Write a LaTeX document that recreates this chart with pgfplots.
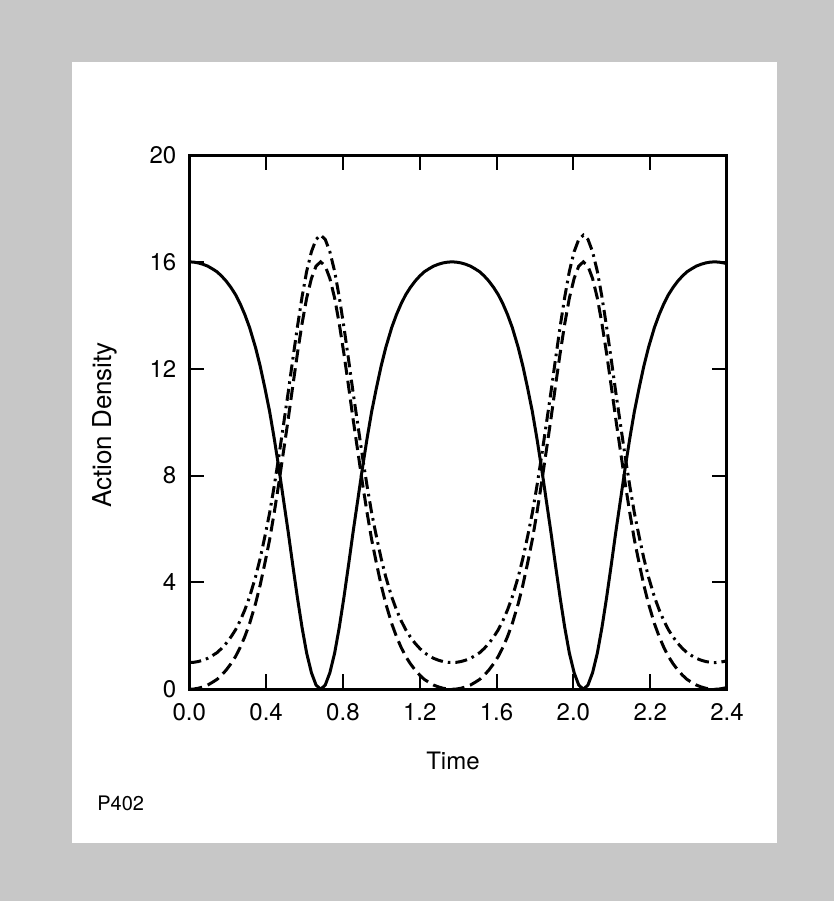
\documentclass[border=0pt]{standalone}
\usepackage{fontspec}
\setmainfont{TeX Gyre Heros}
\usepackage{pgfplots}
\usepackage{pgfplotstable}
\pgfplotsset{compat=1.18}

\pgfplotstableread{
t S D E
0.000 16.00 0.00 1.00
0.023 15.99 0.01 1.01
0.047 15.96 0.04 1.04
0.071 15.91 0.09 1.09
0.096 15.84 0.16 1.16
0.120 15.74 0.26 1.26
0.144 15.63 0.37 1.37
0.168 15.47 0.53 1.53
0.192 15.28 0.72 1.72
0.217 15.04 0.96 1.96
0.241 14.77 1.23 2.23
0.265 14.43 1.57 2.57
0.289 14.03 1.97 2.97
0.314 13.54 2.46 3.46
0.345 12.79 3.21 4.21
0.369 12.10 3.90 4.90
0.393 11.30 4.70 5.70
0.418 10.41 5.59 6.59
0.442 9.40 6.60 7.60
0.466 8.30 7.70 8.70
0.490 7.12 8.88 9.88
0.515 5.89 10.11 11.11
0.539 4.64 11.36 12.36
0.563 3.43 12.57 13.57
0.587 2.32 13.68 14.68
0.611 1.36 14.64 15.64
0.636 0.62 15.38 16.38
0.660 0.16 15.84 16.84
0.684 0.00 16.00 17.00
0.708 0.16 15.84 16.84
0.732 0.62 15.38 16.38
0.757 1.36 14.64 15.64
0.781 2.32 13.68 14.68
0.805 3.43 12.57 13.57
0.829 4.64 11.36 12.36
0.853 5.89 10.11 11.11
0.878 7.12 8.88 9.88
0.902 8.30 7.70 8.70
0.926 9.40 6.60 7.60
0.950 10.41 5.59 6.59
0.975 11.30 4.70 5.70
0.999 12.10 3.90 4.90
1.023 12.79 3.21 4.21
1.054 13.54 2.46 3.46
1.079 14.03 1.97 2.97
1.103 14.43 1.57 2.57
1.127 14.77 1.23 2.23
1.151 15.04 0.96 1.96
1.176 15.28 0.72 1.72
1.200 15.47 0.53 1.53
1.224 15.63 0.37 1.37
1.248 15.74 0.26 1.26
1.272 15.84 0.16 1.16
1.297 15.91 0.09 1.09
1.321 15.96 0.04 1.04
1.345 15.99 0.01 1.01
1.368 16.00 0.00 1.00
1.391 15.99 0.01 1.01
1.415 15.96 0.04 1.04
1.439 15.91 0.09 1.09
1.464 15.84 0.16 1.16
1.488 15.74 0.26 1.26
1.512 15.63 0.37 1.37
1.536 15.47 0.53 1.53
1.560 15.28 0.72 1.72
1.585 15.04 0.96 1.96
1.609 14.77 1.23 2.23
1.633 14.43 1.57 2.57
1.657 14.03 1.97 2.97
1.682 13.54 2.46 3.46
1.713 12.79 3.21 4.21
1.737 12.10 3.90 4.90
1.761 11.30 4.70 5.70
1.786 10.41 5.59 6.59
1.810 9.40 6.60 7.60
1.834 8.30 7.70 8.70
1.858 7.12 8.88 9.88
1.883 5.89 10.11 11.11
1.907 4.64 11.36 12.36
1.931 3.43 12.57 13.57
1.955 2.32 13.68 14.68
1.979 1.36 14.64 15.64
2.004 0.62 15.38 16.38
2.028 0.16 15.84 16.84
2.052 0.00 16.00 17.00
2.076 0.16 15.84 16.84
2.100 0.62 15.38 16.38
2.125 1.36 14.64 15.64
2.149 2.32 13.68 14.68
2.173 3.43 12.57 13.57
2.197 4.64 11.36 12.36
2.221 5.89 10.11 11.11
2.246 7.12 8.88 9.88
2.270 8.30 7.70 8.70
2.294 9.40 6.60 7.60
2.318 10.41 5.59 6.59
2.343 11.30 4.70 5.70
2.367 12.10 3.90 4.90
2.391 12.79 3.21 4.21
2.422 13.54 2.46 3.46
2.447 14.03 1.97 2.97
2.471 14.43 1.57 2.57
2.495 14.77 1.23 2.23
2.519 15.04 0.96 1.96
2.544 15.28 0.72 1.72
2.568 15.47 0.53 1.53
2.592 15.63 0.37 1.37
2.616 15.74 0.26 1.26
2.640 15.84 0.16 1.16
2.665 15.91 0.09 1.09
2.689 15.96 0.04 1.04
2.713 15.99 0.01 1.01
2.736 16.00 0.00 1.00
2.759 15.99 0.01 1.01
2.783 15.96 0.04 1.04
2.800 15.93 0.07 1.07
}\datatable

\begin{document}
\begin{tikzpicture}
\fill[black!22] (-94.65pt,-105.85pt) rectangle (322.35pt,344.65pt);
\fill[white] (-58.65pt,-76.85pt) rectangle (293.85pt,313.65pt);
\begin{axis}[
  at={(0pt,0pt)}, anchor=south west,
  scale only axis, width=268.85pt, height=267.15pt,
  xmin=0, xmax=2.8, ymin=0, ymax=20,
  xtick={0,0.4,0.8,1.2,1.6,2.0,2.4,2.8},
  xticklabels={0.0,0.4,0.8,1.2,1.6,2.0,2.2,2.4},
  ytick={0,4,8,12,16,20},
  /pgf/number format/assume math mode=true,
  tick align=inside, major tick length=7.5pt,
  axis line style={line width=1.5pt, black},
  every tick/.style={line width=1pt, black},
  tick label style={font=\fontsize{12}{14}\selectfont},
  xticklabel style={anchor=center, yshift=-11.35pt},
  yticklabel style={anchor=east, inner sep=0pt, xshift=-6.3pt},
  xlabel={Time}, ylabel={Action Density},
  xlabel style={font=\fontsize{12}{14}\selectfont, at={(axis description cs:0.4904,-0.1338)}, anchor=center},
  ylabel style={font=\fontsize{13}{15}\selectfont, at={(axis description cs:-0.1568,0.4946)}, anchor=center},
]
\addplot[black, line width=1.5pt] table[x=t, y=S] {\datatable};
\addplot[black, line width=1.5pt, dash pattern=on 6.5pt off 3pt] table[x=t, y=D] {\datatable};
\addplot[black, line width=1.5pt, dash pattern=on 6pt off 2.5pt on 1.3pt off 2.5pt] table[x=t, y=E] {\datatable};
\end{axis}
\node[anchor=west, inner sep=0pt, font=\fontsize{10}{12}\selectfont] at (-46.15pt,-57pt) {P402};
\end{tikzpicture}
\end{document}
